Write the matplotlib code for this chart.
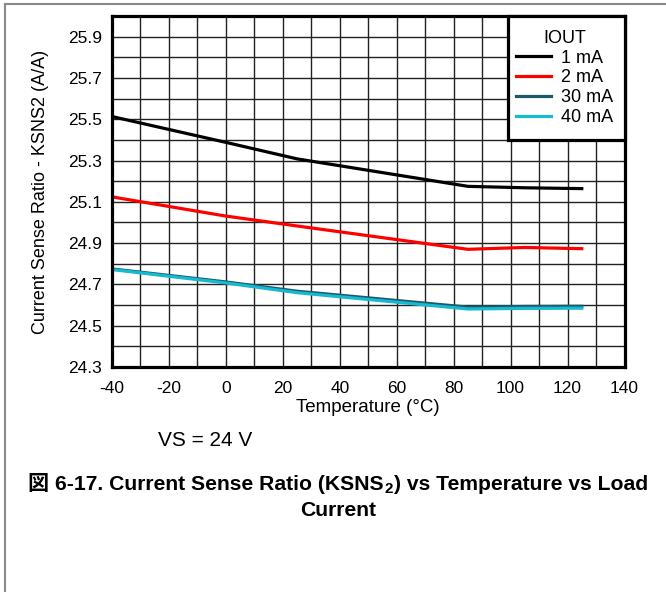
import numpy as np
import matplotlib
matplotlib.use("Agg")
import matplotlib.pyplot as plt
from matplotlib.lines import Line2D
from matplotlib.patches import Rectangle
from matplotlib.ticker import MultipleLocator

plt.rcParams['font.family'] = ['Liberation Sans', 'Noto Sans CJK JP', 'DejaVu Sans']
plt.rcParams['axes.unicode_minus'] = False

# temperature sweep (degC) and sense ratio per load current
temps = [-40, 0, 25, 85, 105, 125]
ksns_1ma = [25.513, 25.388, 25.308, 25.175, 25.168, 25.164]
ksns_2ma = [25.124, 25.031, 24.983, 24.870, 24.879, 24.873]
ksns_30ma = [24.775, 24.712, 24.667, 24.590, 24.593, 24.594]
ksns_40ma = [24.772, 24.707, 24.660, 24.581, 24.584, 24.585]
labels = ['1 mA', '2 mA', '30 mA', '40 mA']
colors = ['#000000', '#ff0000', '#1c5a6a', '#15b9d0']
ytick_vals = [24.3, 24.5, 24.7, 24.9, 25.1, 25.3, 25.5, 25.7, 25.9]

W, H = 666, 592
ax_l, ax_r, ax_t, ax_b = 112, 624.5, 16, 367

fig = plt.figure(figsize=(W / 100, H / 100), dpi=100)
ax = fig.add_axes([ax_l / W, 1 - ax_b / H, (ax_r - ax_l) / W, (ax_b - ax_t) / H])


def px_to_ax(x, y):
    # pixel position on the page -> axes fraction
    return (x - ax_l) / (ax_r - ax_l), (ax_b - y) / (ax_b - ax_t)


for ys, lab, c in zip([ksns_1ma, ksns_2ma, ksns_30ma, ksns_40ma], labels, colors):
    ax.plot(temps, ys, color=c, lw=2.3, label=lab)

ax.set_xlim(-40, 140)
ax.set_ylim(24.3, 26.0)
ax.xaxis.set_major_locator(MultipleLocator(20))
ax.xaxis.set_minor_locator(MultipleLocator(10))
ax.set_yticks(ytick_vals)
ax.set_yticklabels(['%.1f' % v for v in ytick_vals])
ax.yaxis.set_minor_locator(MultipleLocator(0.1))
ax.grid(True, which='both', color='#222222', lw=1.0)
ax.set_axisbelow(True)
ax.tick_params(which='both', length=0, labelsize=12.5)
ax.tick_params(axis='x', pad=10)
ax.tick_params(axis='y', pad=7)
for s in ax.spines.values():
    s.set_linewidth(2.3)

ax.set_xlabel('Temperature (°C)', fontsize=13.5, labelpad=2)
ax.set_ylabel('Current Sense Ratio - KSNS2 (A/A)', fontsize=13)
ax.yaxis.set_label_coords((49 - ax_l) / (ax_r - ax_l), 0.5)

# legend box drawn as its own rectangle, entries placed inside it
bx0, by0 = px_to_ax(508, 140)
bx1, by1 = px_to_ax(624.5, 16)
ax.add_patch(Rectangle((bx0, by0), bx1 - bx0, by1 - by0, transform=ax.transAxes,
                       facecolor='white', edgecolor='black', lw=2.3, zorder=5,
                       clip_on=False))
leg = ax.legend(title='IOUT', loc='upper left', bbox_to_anchor=px_to_ax(516, 30),
                fontsize=13, title_fontsize=13, frameon=False, borderaxespad=0,
                borderpad=0, handlelength=1.95, handletextpad=0.55, labelspacing=0.15)
leg.set_zorder(6)

fig.text(158 / W, 1 - 440 / H, 'VS = 24 V', fontsize=15, va='center', ha='left')

# caption, first line built in pieces so the subscript 2 sits below the baseline
cap_kw = dict(fontsize=15.2, fontweight='bold')
t1 = fig.text(0, 1 - 490 / H, '図 6-17. Current Sense Ratio (KSNS', ha='left',
              va='baseline', **cap_kw)
t2 = plt.annotate('2', xy=(1, 0), xycoords=t1, xytext=(0.5, -1.5),
                  textcoords='offset points', ha='left', va='bottom',
                  fontsize=11, fontweight='bold', annotation_clip=False)
t3 = plt.annotate(') vs Temperature vs Load', xy=(1, 0), xycoords=(t2, t1),
                  xytext=(0.5, 0), textcoords='offset points', ha='left', va='bottom',
                  annotation_clip=False, **cap_kw)
fig.canvas.draw()
r = fig.canvas.get_renderer()
x_left = t1.get_window_extent(r).x0
x_right = t3.get_window_extent(r).x1
t1.set_x((338 - (x_right - x_left) / 2) / W)

fig.text(338 / W, 1 - 510 / H, 'Current', ha='center', va='center', **cap_kw)

# thin grey page frame on the top and left edges
fig.add_artist(Line2D([4.5 / W, 4.5 / W], [0, 1 - 4 / H], transform=fig.transFigure,
                      color='#8a8a8a', lw=1.5))
fig.add_artist(Line2D([4.5 / W, 1], [1 - 4 / H, 1 - 4 / H], transform=fig.transFigure,
                      color='#8a8a8a', lw=1.5))

fig.savefig('out.png', dpi=100)
